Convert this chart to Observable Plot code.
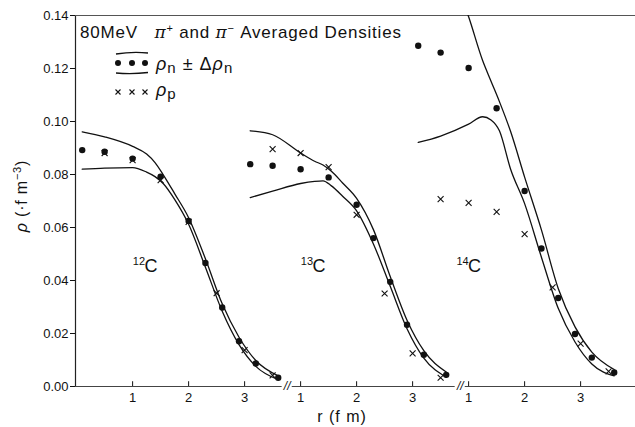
<!DOCTYPE html>
<html><head><meta charset="utf-8">
<script src="https://cdn.jsdelivr.net/npm/d3@7"></script>
<script src="https://cdn.jsdelivr.net/npm/@observablehq/plot@0.6"></script>
<style>body{margin:0;background:#fff;}</style>
</head><body><div id="chart"></div>
<script>
// ---- data (r in fm, local to each nucleus panel; rho in fm^-3) ----
const nuclei = ["C", "C", "C"];
const massNumbers = ["12", "13", "14"];
const panelOffset = [0, 3, 6];           // each panel's r axis is shifted by 3 fm
const labelR = [1.22, 1.22, 1.0];        // local r for nucleus labels
const labelRho = 0.0452;

const rN = [0.1, 0.5, 1.0, 1.5, 2.0, 2.3, 2.6, 2.9, 3.2, 3.6];
const rhoN12 = [0.0892, 0.0886, 0.0860, 0.0792, 0.0625, 0.0466, 0.0298, 0.0171, 0.0087, 0.0033];
const rhoN13 = [0.0839, 0.0833, 0.0820, 0.0789, 0.0686, 0.0560, 0.0395, 0.0233, 0.0120, 0.0044];
const rhoN14 = [0.1286, 0.1260, 0.1202, 0.1050, 0.0738, 0.0521, 0.0334, 0.0198, 0.0109, 0.0053];

const rP = [0.5, 1.0, 1.5, 2.0, 2.5, 3.0, 3.5];
const rhoP12 = [0.0881, 0.0854, 0.0779, 0.0621, 0.0352, 0.0137, 0.0042];
const rhoP13 = [0.0896, 0.0881, 0.0828, 0.0648, 0.0351, 0.0125, 0.0033];
const rhoP14 = [0.0707, 0.0693, 0.0659, 0.0575, 0.0374, 0.0162, 0.0057];

const rBand = [0.1, 0.5, 1.0, 1.25, 1.4, 1.55, 1.75, 2.0, 2.3, 2.6, 2.9, 3.2, 3.6];
const up12 = [0.0961, 0.0942, 0.0906, 0.0877, 0.0845, 0.0798, 0.0728, 0.0637, 0.0482, 0.0312, 0.0186, 0.0098, 0.0040];
const lo12 = [0.0820, 0.0824, 0.0826, 0.0809, 0.0792, 0.0765, 0.0706, 0.0612, 0.0450, 0.0284, 0.0158, 0.0076, 0.0026];
const up13 = [0.0965, 0.0950, 0.0881, 0.0850, 0.0836, 0.0812, 0.0768, 0.0710, 0.0592, 0.0415, 0.0250, 0.0135, 0.0055];
const lo13 = [0.0713, 0.0737, 0.0766, 0.0774, 0.0776, 0.0757, 0.0718, 0.0663, 0.0538, 0.0378, 0.0218, 0.0107, 0.0035];
const up14 = [0.1850, 0.1650, 0.1395, 0.1230, 0.1152, 0.1075, 0.0962, 0.0790, 0.0591, 0.0370, 0.0225, 0.0130, 0.0064];
const lo14 = [0.0921, 0.0945, 0.0990, 0.1018, 0.1006, 0.0965, 0.0820, 0.0690, 0.0488, 0.0295, 0.0168, 0.0085, 0.0040];

const yTicks = [0, 0.02, 0.04, 0.06, 0.08, 0.10, 0.12, 0.14];
const xTickLocal = [1, 2, 3];
const breaks = [3.76, 6.85];
const xDomain = [-0.02, 9.98];
const yDomain = [0, 0.14];

// ---- build tables ----
const rhoN = [rhoN12, rhoN13, rhoN14];
const rhoP = [rhoP12, rhoP13, rhoP14];
const ups = [up12, up13, up14];
const los = [lo12, lo13, lo14];

const dotsN = [], dotsP = [], band = [];
nuclei.forEach((nuc, i) => {
  rN.forEach((r, j) => dotsN.push({x: r + panelOffset[i], y: rhoN[i][j]}));
  rP.forEach((r, j) => dotsP.push({x: r + panelOffset[i], y: rhoP[i][j]}));
  rBand.forEach((r, j) => {
    band.push({x: r + panelOffset[i], y: ups[i][j], key: i + "up"});
    band.push({x: r + panelOffset[i], y: los[i][j], key: i + "lo"});
  });
});
const xTicks = [], xTickLabels = new Map();
panelOffset.forEach(o => xTickLocal.forEach(t => { xTicks.push(o + t); xTickLabels.set(o + t, String(t)); }));
const axisSegments = [];
{
  const pts = [xDomain[0], ...breaks, xDomain[1]];
  for (let k = 0; k < pts.length - 1; k++) {
    axisSegments.push({x1: pts[k] + (k ? 0.09 : 0), x2: pts[k + 1] - (k < pts.length - 2 ? 0.09 : 0)});
  }
}
const labels = nuclei.map((n, i) => ({x: labelR[i] + panelOffset[i], y: labelRho, t: n, m: massNumbers[i]}));

const font = "'Liberation Sans', Arial, sans-serif";
const chart = Plot.plot({
  width: 635, height: 427,
  marginLeft: 75, marginRight: 0, marginTop: 15, marginBottom: 41,
  style: {fontFamily: font, fontSize: "13px", background: "#fff", color: "#111"},
  x: {domain: xDomain},
  y: {domain: yDomain},
  marks: [
    Plot.axisY({ticks: yTicks, tickFormat: d => d.toFixed(2), tickSize: 5, tickPadding: 2, label: null, fontSize: 13, strokeWidth: 1}),
    Plot.axisX({ticks: xTicks, tickFormat: d => xTickLabels.get(d), tickSize: 0, tickPadding: 6, label: null, fontSize: 13}),
    Plot.ruleX(xTicks, {y1: 0, y2: 0.0018, stroke: "#111", strokeWidth: 1}),
    Plot.ruleX([xDomain[0]], {y1: yDomain[0], y2: yDomain[1], stroke: "#222", strokeWidth: 1.2}),
    Plot.ruleY([yDomain[1]], {stroke: "#555", strokeWidth: 1.2}),
    Plot.ruleY(axisSegments, {y: () => 0, x1: "x1", x2: "x2", stroke: "#444", strokeWidth: 1.2}),
    Plot.text(breaks, {x: d => d, y: () => 0, text: () => "//", fontSize: 12, fontStyle: "italic", fill: "#111"}),
    Plot.line(band, {x: "x", y: "y", z: "key", stroke: "#111", strokeWidth: 1.3, curve: "monotone-x", clip: true}),
    Plot.dot(dotsP, {x: "x", y: "y", symbol: "times", r: 2.8, stroke: "#111", strokeWidth: 1.1}),
    Plot.dot(dotsN, {x: "x", y: "y", r: 3.2, fill: "#111", stroke: "none"}),
    Plot.text(labels, {x: "x", y: "y", text: "t", fontSize: 18, dx: 6, fill: "#111"}),
    Plot.text(labels, {x: "x", y: "y", text: "m", fontSize: 11, dx: -6, dy: -5, fill: "#111"})
  ]
});
document.getElementById("chart").appendChild(chart);

// ---- legend & axis titles (mixed styling) ----
const svg = d3.select(chart);
const g = svg.append("g").attr("fill", "#111").attr("font-family", font).attr("text-anchor", "start");
const title = g.append("text").attr("x", 80).attr("y", 38).attr("font-size", 17).attr("letter-spacing", 0.8);
title.append("tspan").text("80MeV   ");
title.append("tspan").attr("font-style", "italic").attr("font-family", "'DejaVu Serif', serif").text("π");
title.append("tspan").attr("font-size", 11).attr("dy", -6).text("+");
title.append("tspan").attr("dy", 6).text(" and ");
title.append("tspan").attr("font-style", "italic").attr("font-family", "'DejaVu Serif', serif").text("π");
title.append("tspan").attr("font-size", 11).attr("dy", -6).text("−");
title.append("tspan").attr("dy", 6).text(" Averaged Densities");

const legDotsX = [118, 132, 145];
g.append("path").attr("d", "M116,54 Q132,51.5 148,53").attr("stroke", "#111").attr("fill", "none").attr("stroke-width", 1.3);
g.append("path").attr("d", "M116,73 Q132,74.5 148,72.5").attr("stroke", "#111").attr("fill", "none").attr("stroke-width", 1.3);
legDotsX.forEach(x => g.append("circle").attr("cx", x).attr("cy", 63).attr("r", 3));
const l1 = g.append("text").attr("x", 156).attr("y", 70).attr("font-size", 18).attr("letter-spacing", 1);
l1.append("tspan").attr("font-style", "italic").text("ρ");
l1.append("tspan").attr("font-size", 15).attr("dy", 3).text("n");
l1.append("tspan").attr("dy", -3).text(" ± Δ");
l1.append("tspan").attr("font-style", "italic").text("ρ");
l1.append("tspan").attr("font-size", 15).attr("dy", 3).text("n");

legDotsX.forEach(x => {
  g.append("path").attr("d", `M${x-2.5},${89.5}L${x+2.5},${94.5}M${x-2.5},${94.5}L${x+2.5},${89.5}`)
    .attr("stroke", "#111").attr("stroke-width", 1.1);
});
const l2 = g.append("text").attr("x", 156).attr("y", 96).attr("font-size", 18).attr("letter-spacing", 1);
l2.append("tspan").attr("font-style", "italic").text("ρ");
l2.append("tspan").attr("font-size", 15).attr("dy", 3).text("p");

const yl = g.append("text").attr("transform", "translate(27,196) rotate(-90)").attr("text-anchor", "middle").attr("font-size", 16).attr("letter-spacing", 0.8);
yl.append("tspan").attr("font-style", "italic").text("ρ");
yl.append("tspan").text(" (·f m");
yl.append("tspan").attr("font-size", 11).attr("dy", -6).text("−3");
yl.append("tspan").attr("dy", 6).text(")");

g.append("text").attr("x", 342).attr("y", 422).attr("text-anchor", "middle").attr("font-size", 16).attr("letter-spacing", 1).text("r (f m)");
</script>
</body></html>
